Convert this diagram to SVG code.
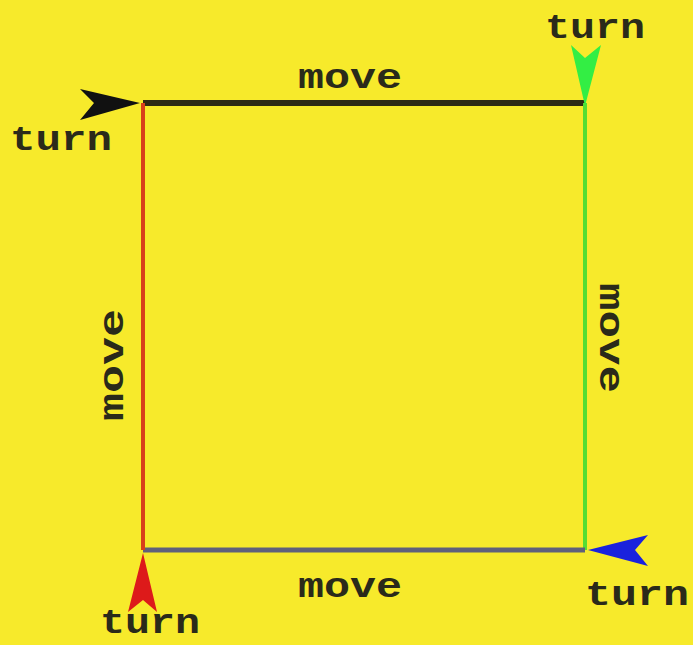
<svg xmlns="http://www.w3.org/2000/svg" width="693" height="645" viewBox="0 0 693 645">
<style>
.lbl{font-family:"Liberation Mono","Courier New",monospace;font-weight:bold;font-size:35px;fill:#2a2a1a;text-anchor:middle}
.edge{fill:none}
</style>
<rect x="0" y="0" width="693" height="645" fill="#f7ea2b"/>
<g id="connectors">
<line class="edge" x1="143" y1="103" x2="585" y2="103" stroke="#2e2a14" stroke-width="6"/>
<line class="edge" x1="585" y1="103" x2="585" y2="550" stroke="#55dd33" stroke-width="4"/>
<line class="edge" x1="585" y1="550" x2="143" y2="550" stroke="#60607a" stroke-width="5"/>
<line class="edge" x1="143" y1="550" x2="143" y2="103" stroke="#d8401a" stroke-width="4"/>
</g>
<g id="arrow-top-left">
<polygon points="140,103 80,89 94,103 80,120" fill="#111111"/>
<text class="lbl" x="61" y="150" textLength="102" lengthAdjust="spacingAndGlyphs">turn</text>
</g>
<g id="arrow-top-right">
<polygon points="585,106 571,45 585,58 601,45" fill="#33ee44"/>
<text class="lbl" x="595" y="38" textLength="100" lengthAdjust="spacingAndGlyphs">turn</text>
</g>
<g id="arrow-bottom-right">
<polygon points="588,550 648,535 635,550 648,566" fill="#1a22dd"/>
<text class="lbl" x="637" y="605" textLength="104" lengthAdjust="spacingAndGlyphs">turn</text>
</g>
<g id="arrow-bottom-left">
<polygon points="143,553 128,612 143,600 157,612" fill="#dd1a1a"/>
<text class="lbl" x="150" y="633" textLength="100" lengthAdjust="spacingAndGlyphs">turn</text>
</g>
<g id="label-top"><text class="lbl" x="350" y="88" textLength="104" lengthAdjust="spacingAndGlyphs">move</text></g>
<g id="label-bottom"><text class="lbl" x="350" y="597" textLength="104" lengthAdjust="spacingAndGlyphs">move</text></g>
<g id="label-left"><text class="lbl" transform="translate(123,365) rotate(-90)" x="0" y="0" textLength="112" lengthAdjust="spacingAndGlyphs">move</text></g>
<g id="label-right"><text class="lbl" transform="translate(600,338) rotate(90)" x="0" y="0" textLength="110" lengthAdjust="spacingAndGlyphs">move</text></g>
</svg>
